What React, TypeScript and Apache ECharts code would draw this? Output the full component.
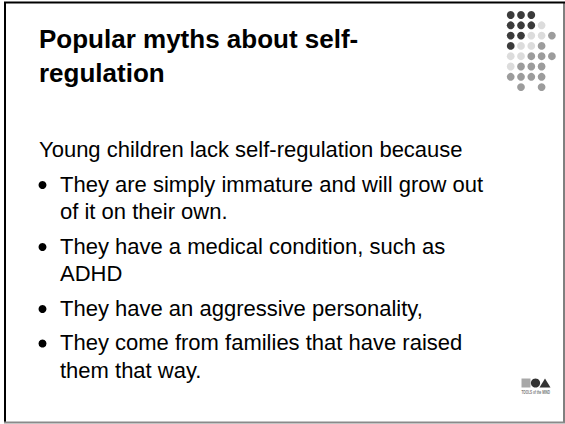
import React, { useEffect, useRef } from "react";
import * as echarts from "echarts";

const TITLE_LINES = ["Popular myths about self-", "regulation"];
const INTRO = "Young children lack self-regulation because";
const BULLETS: string[][] = [
  ["They are simply immature and will grow out", "of it on their own."],
  ["They have a medical condition, such as", "ADHD"],
  ["They have an aggressive personality,"],
  ["They come from families that have raised", "them that way."],
];
const DOT_ROWS = ["DDD..", "DDDL.", "DDLLM", "DLLM.", "LLMMM", "LMMM.", "MMMM.", ".M.M."];
const DOT_COLORS: Record<string, string> = { D: "#3b3b3b", L: "#dcdcdc", M: "#9c9c9c" };
const LOGO_TEXT = "TOOLS of the MIND";

const FONT = "'Liberation Sans', Arial, sans-serif";

export default function App() {
  const ref = useRef<HTMLDivElement>(null);
  useEffect(() => {
    document.body.style.margin = "0";
    const chart = echarts.init(ref.current!, null, { renderer: "svg" });
    const els: any[] = [];

    // frame
    els.push({ type: "rect", shape: { x: 0, y: 0, width: 565, height: 424 }, style: { fill: "#ffffff" }, silent: true });
    els.push({ type: "line", shape: { x1: 4, y1: 2.5, x2: 565, y2: 2.5 }, style: { stroke: "#000", lineWidth: 2 } });
    els.push({ type: "line", shape: { x1: 5, y1: 2, x2: 5, y2: 423 }, style: { stroke: "#000", lineWidth: 2 } });
    els.push({ type: "line", shape: { x1: 564, y1: 2, x2: 564, y2: 422 }, style: { stroke: "#000", lineWidth: 1 } });
    els.push({ type: "line", shape: { x1: 4, y1: 422.5, x2: 565, y2: 422.5 }, style: { stroke: "#8a8a8a", lineWidth: 2 } });

    // title
    const titleY = [39, 73];
    TITLE_LINES.forEach((t, i) => {
      els.push({
        type: "text",
        x: 39,
        y: titleY[i],
        style: { text: t, fill: "#000", font: `bold 26px ${FONT}`, verticalAlign: "middle", align: "left" },
      });
    });

    // body
    const bodyFont = `22px ${FONT}`;
    const PARA_GAP = 34.5;
    const LINE_GAP = 27.5;
    let y = 149.5;
    els.push({ type: "text", x: 39, y, style: { text: INTRO, fill: "#000", font: bodyFont, verticalAlign: "middle" } });
    BULLETS.forEach((lines) => {
      y += PARA_GAP;
      lines.forEach((ln, j) => {
        if (j > 0) y += LINE_GAP;
        if (j === 0) {
          els.push({ type: "circle", shape: { cx: 42.5, cy: y + 1, r: 4 }, style: { fill: "#000" } });
        }
        els.push({ type: "text", x: 60, y, style: { text: ln, fill: "#000", font: bodyFont, verticalAlign: "middle" } });
      });
    });

    // dot grid
    DOT_ROWS.forEach((row, r) => {
      row.split("").forEach((c, k) => {
        if (c === ".") return;
        els.push({
          type: "circle",
          shape: { cx: 510.7 + k * 10.3, cy: 15 + r * 10.3, r: 3.9 },
          style: { fill: DOT_COLORS[c] },
        });
      });
    });

    // logo
    els.push({ type: "rect", shape: { x: 521.5, y: 378.5, width: 9, height: 9 }, style: { fill: "#a8a8a8" } });
    els.push({ type: "circle", shape: { cx: 535.5, cy: 383, r: 4.6 }, style: { fill: "#333" } });
    els.push({ type: "polygon", shape: { points: [[539.5, 387.5], [545, 378.5], [550.5, 387.5]] }, style: { fill: "#333" } });
    els.push({
      type: "text",
      x: 521.5,
      y: 392,
      scaleX: 0.62,
      style: { text: LOGO_TEXT, fill: "#777", font: `bold 5px ${FONT}`, verticalAlign: "middle" },
    });

    chart.setOption({ animation: false, graphic: { elements: els } });
    return () => chart.dispose();
  }, []);
  return <div ref={ref} style={{ width: 565, height: 424 }} />;
}
